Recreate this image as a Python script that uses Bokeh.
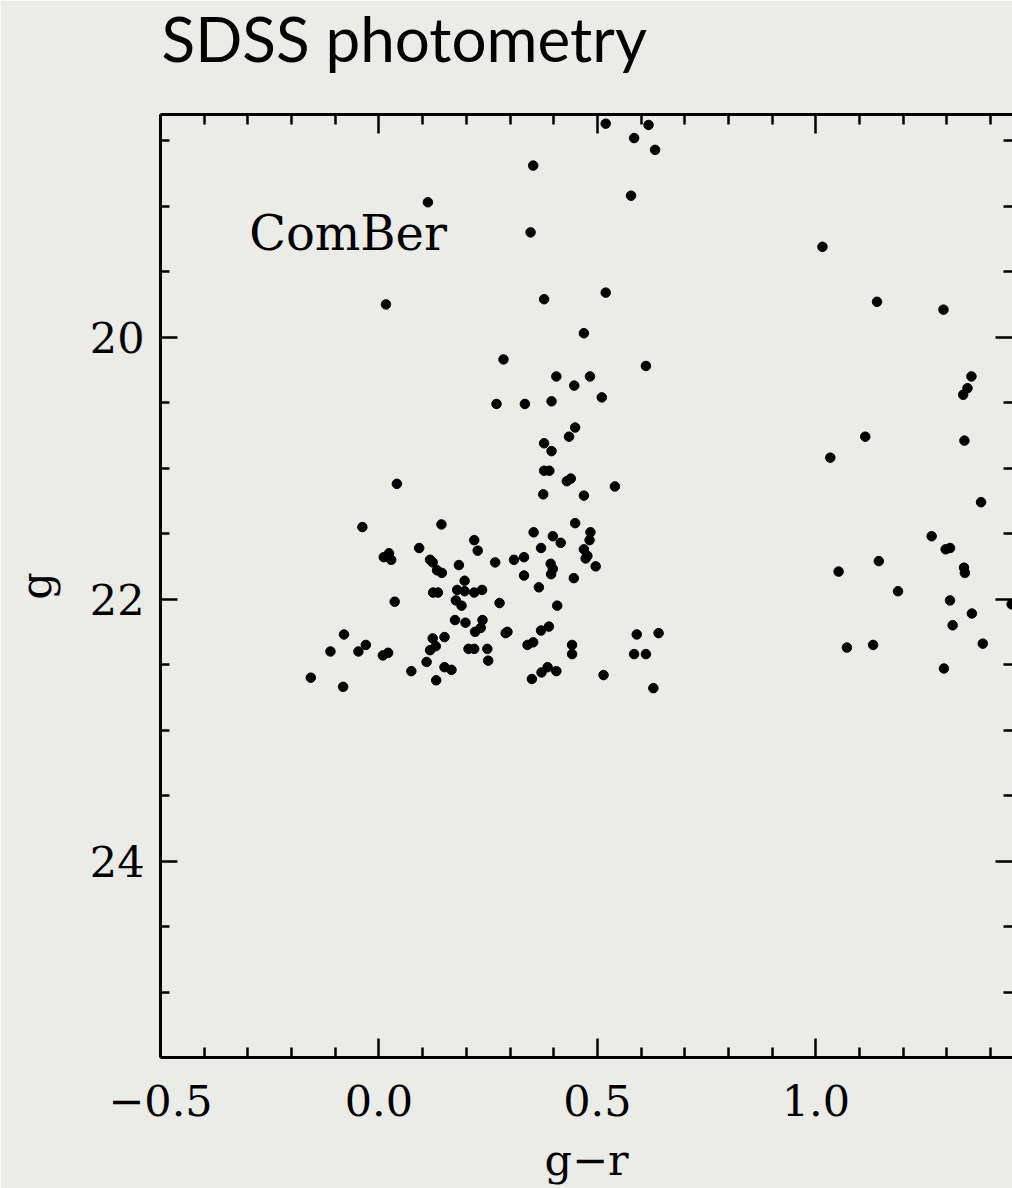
from bokeh.plotting import figure
from bokeh.models import (Range1d, LinearAxis, FixedTicker, Label,
                          CustomLabelingPolicy)
from bokeh.embed import file_html
from bokeh.resources import INLINE

# ---- data (g-r colour, g magnitude) ----
g_r = [0.519, 0.584, 0.617, 0.632, 0.353, 0.577, 0.112, 0.347, 1.015, 0.016,
       0.378, 0.519, 1.140, 1.292, 0.469, 0.285, 0.611, 0.406, 0.483, 0.447,
       0.510, 1.356, 1.347, 1.337, 0.269, 0.334, 0.395, 0.449, 0.435, 0.378,
       0.395, 1.113, 1.340, 1.033, 0.378, 0.390, 0.430, 0.439, 0.540, 0.041,
       0.376, 0.469, 1.378, -0.038, 0.143, 0.449, 0.354, 0.484, 0.398, 0.482,
       0.218, 0.416, 0.371, 0.092, 0.226, 0.469, 0.477, 0.473, 0.023, 0.011,
       0.028, 0.117, 0.123, 0.309, 0.332, 0.266, 0.183, 0.393, 0.398, 0.496,
       0.133, 0.144, 0.332, 0.394, 0.446, 0.196, 0.366, 0.179, 0.196, 0.124,
       0.135, 0.218, 0.236, 0.036, 0.176, 0.189, 0.276, 0.408, 0.174, 0.198,
       0.237, 0.233, 0.220, 0.290, 0.294, 0.389, 0.371, 0.590, -0.080, 0.123,
       0.150, 0.130, 0.117, -0.030, -0.111, -0.047, 0.009, 0.021, 0.205, 0.218,
       0.248, 0.250, 0.340, 0.353, 0.442, 0.442, 0.584, 0.611, 0.109, 0.074,
       0.150, 0.166, 0.131, -0.156, -0.082, 0.350, 0.372, 0.386, 0.406, 0.514,
       0.640, 0.628, 1.144, 1.052, 1.265, 1.297, 1.307, 1.339, 1.341, 1.188,
       1.307, 1.357, 1.448, 1.313, 1.382, 1.071, 1.131, 1.293]
g_mag = [18.37, 18.48, 18.38, 18.57, 18.69, 18.92, 18.97, 19.20, 19.31, 19.75,
         19.71, 19.66, 19.73, 19.79, 19.97, 20.17, 20.22, 20.30, 20.30, 20.37,
         20.46, 20.30, 20.39, 20.44, 20.51, 20.51, 20.49, 20.69, 20.76, 20.81,
         20.87, 20.76, 20.79, 20.92, 21.02, 21.02, 21.10, 21.08, 21.14, 21.12,
         21.20, 21.21, 21.26, 21.45, 21.43, 21.42, 21.49, 21.49, 21.52, 21.55,
         21.55, 21.57, 21.61, 21.61, 21.63, 21.62, 21.67, 21.69, 21.65, 21.68,
         21.70, 21.70, 21.72, 21.70, 21.68, 21.72, 21.74, 21.73, 21.77, 21.75,
         21.78, 21.80, 21.82, 21.81, 21.84, 21.86, 21.91, 21.93, 21.94, 21.95,
         21.95, 21.95, 21.93, 22.02, 22.01, 22.05, 22.03, 22.05, 22.16, 22.18,
         22.16, 22.22, 22.25, 22.26, 22.25, 22.21, 22.24, 22.27, 22.27, 22.30,
         22.29, 22.36, 22.39, 22.35, 22.40, 22.40, 22.43, 22.41, 22.38, 22.38,
         22.38, 22.47, 22.35, 22.33, 22.35, 22.42, 22.42, 22.42, 22.48, 22.55,
         22.52, 22.54, 22.62, 22.60, 22.67, 22.61, 22.56, 22.52, 22.55, 22.58,
         22.26, 22.68, 21.71, 21.79, 21.52, 21.62, 21.61, 21.76, 21.80, 21.94,
         22.01, 22.11, 22.04, 22.20, 22.34, 22.37, 22.35, 22.53]

x_ticks = [-0.5, 0.0, 0.5, 1.0]
x_tick_labels = ["\u22120.5", "0.0", "0.5", "1.0"]
x_minor = [-0.4, -0.3, -0.2, -0.1, 0.1, 0.2, 0.3, 0.4, 0.6, 0.7, 0.8, 0.9,
           1.1, 1.2, 1.3, 1.4]
y_ticks = [20, 22, 24]
y_tick_labels = ["20", "22", "24"]
y_minor = [18.5, 19.0, 19.5, 20.5, 21.0, 21.5, 22.5, 23.0, 23.5, 24.5, 25.0]

title_text = "SDSS photometry"
field_name = "ComBer"
x_title = "g\u2212r"
y_title = "g"

X_MIN, X_MAX = -0.5, 1.45
Y_BOTTOM, Y_TOP = 25.5, 18.3

BG = "#ebebe8"
SERIF = "DejaVu Serif"
TICK_FS = "43px"

p = figure(width=1012, height=1188,
           x_range=Range1d(X_MIN, X_MAX), y_range=Range1d(Y_BOTTOM, Y_TOP),
           output_backend="svg", toolbar_location=None,
           x_axis_location=None, y_axis_location=None,
           min_border_left=160, min_border_right=0,
           min_border_top=113, min_border_bottom=131,
           background_fill_color=BG, border_fill_color=BG,
           outline_line_color=None)
p.grid.visible = False

# slide title (outermost panel above the frame)
p.title.text = title_text
p.title.text_font = "Lato"
p.title.text_font_size = "62px"
p.title.text_font_style = "normal"
p.title.text_color = "black"
p.title.align = "left"
p.title.vertical_align = "top"
p.title.offset = 1
p.title.standoff = 0

hide_all = CustomLabelingPolicy(code="return new Set()")


def style_axis(ax, tick_in, minor_in, show_labels):
    ax.axis_line_width = 3
    ax.axis_line_color = "black"
    ax.major_tick_line_width = 2.5
    ax.minor_tick_line_width = 2.5
    ax.major_tick_in = tick_in
    ax.major_tick_out = 0
    ax.minor_tick_in = minor_in
    ax.minor_tick_out = 0
    ax.major_label_text_font = SERIF
    ax.major_label_text_color = "black"
    ax.axis_label_text_font = SERIF
    ax.axis_label_text_font_style = "normal"
    ax.axis_label_text_color = "black"
    if show_labels:
        ax.major_label_text_font_size = TICK_FS
        ax.axis_label_text_font_size = TICK_FS
    else:
        ax.major_label_text_font_size = "0px"
        ax.major_label_standoff = 0
        ax.major_label_policy = hide_all


xb = LinearAxis(ticker=FixedTicker(ticks=x_ticks, minor_ticks=x_minor),
                axis_label=x_title)
style_axis(xb, 19, 10, True)
xb.major_label_overrides = dict(zip(x_ticks, x_tick_labels))
xb.major_label_standoff = 27
xb.axis_label_standoff = 16
p.add_layout(xb, "below")

# top axis: inward ticks only; its (hidden) labels reserve the gap
# between the frame and the title
xt = LinearAxis(ticker=FixedTicker(ticks=x_ticks, minor_ticks=x_minor))
style_axis(xt, 19, 10, False)
xt.major_label_text_font_size = "10px"
xt.major_label_standoff = 28
p.add_layout(xt, "above")

yl = LinearAxis(ticker=FixedTicker(ticks=y_ticks, minor_ticks=y_minor),
                axis_label=y_title)
style_axis(yl, 17, 9, True)
yl.major_label_overrides = dict(zip(y_ticks, y_tick_labels))
yl.major_label_standoff = 16
yl.axis_label_standoff = 26
p.add_layout(yl, "left")

yr = LinearAxis(ticker=FixedTicker(ticks=y_ticks, minor_ticks=y_minor))
style_axis(yr, 17, 9, False)
yr.axis_line_color = None
p.add_layout(yr, "right")

p.scatter(g_r, g_mag, size=9.5, color="black", line_color="black")

# field name inside the frame
p.add_layout(Label(x=-0.297, y=19.206, text=field_name,
                   text_font=SERIF, text_font_size="48px",
                   text_baseline="alphabetic", text_color="black"))

open("out.html", "w").write(file_html(p, INLINE))
